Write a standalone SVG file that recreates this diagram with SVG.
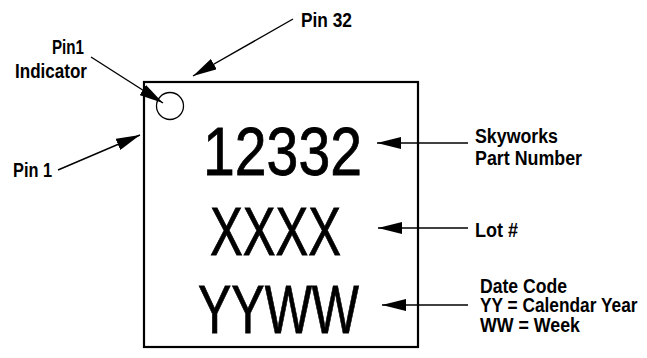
<svg xmlns="http://www.w3.org/2000/svg" width="647" height="358" viewBox="0 0 647 358">
<defs>
<marker id="ah" viewBox="0 0 24 12" refX="24" refY="6" markerWidth="24" markerHeight="12" markerUnits="userSpaceOnUse" orient="auto">
<path d="M0,0 L24,6 L0,12 Z" fill="#000"/>
</marker>
<style>
.lbl{font-family:"Liberation Sans",Arial,sans-serif;font-weight:bold;font-size:20px;fill:#000}
.big{font-family:"Liberation Sans",Arial,sans-serif;font-size:69px;fill:#000;stroke:#000;stroke-width:0.8}
.conn{stroke:#000;stroke-width:1.4;fill:none;marker-end:url(#ah)}
</style>
</defs>
<rect width="647" height="358" fill="#fff"/>
<g id="chip">
<rect x="144" y="82" width="274" height="265" fill="none" stroke="#000" stroke-width="2.2"/>
<circle cx="170" cy="106" r="13.5" fill="none" stroke="#000" stroke-width="1.3"/>
<text class="big" x="203" y="175" textLength="159" lengthAdjust="spacingAndGlyphs">12332</text>
<text class="big" x="210" y="255" textLength="131" lengthAdjust="spacingAndGlyphs">XXXX</text>
<text class="big" x="198" y="333" textLength="161" lengthAdjust="spacingAndGlyphs">YYWW</text>
</g>
<g id="labels">
<text class="lbl" x="301" y="27" textLength="51" lengthAdjust="spacingAndGlyphs">Pin 32</text>
<text class="lbl" x="52" y="54" textLength="32" lengthAdjust="spacingAndGlyphs">Pin1</text>
<text class="lbl" x="15" y="78" textLength="72" lengthAdjust="spacingAndGlyphs">Indicator</text>
<text class="lbl" x="13" y="177" textLength="39" lengthAdjust="spacingAndGlyphs">Pin 1</text>
<text class="lbl" x="475" y="143" textLength="83" lengthAdjust="spacingAndGlyphs">Skyworks</text>
<text class="lbl" x="475" y="165" textLength="107" lengthAdjust="spacingAndGlyphs">Part Number</text>
<text class="lbl" x="475" y="237" textLength="43" lengthAdjust="spacingAndGlyphs">Lot #</text>
<text class="lbl" x="480" y="293" textLength="87" lengthAdjust="spacingAndGlyphs">Date Code</text>
<text class="lbl" transform="translate(480,312) scale(0.865,1)" x="0" y="0">YY = Calendar Year</text>
<text class="lbl" x="480" y="332" textLength="100" lengthAdjust="spacingAndGlyphs">WW = Week</text>
</g>
<g id="connectors">
<line class="conn" x1="293" y1="19" x2="193" y2="76"/>
<line class="conn" x1="91" y1="57" x2="163" y2="103"/>
<line class="conn" x1="58" y1="170" x2="140" y2="135"/>
<line class="conn" x1="468" y1="143" x2="377" y2="143"/>
<line class="conn" x1="468" y1="228" x2="378" y2="228"/>
<line class="conn" x1="468" y1="305" x2="382" y2="305"/>
</g>
</svg>
